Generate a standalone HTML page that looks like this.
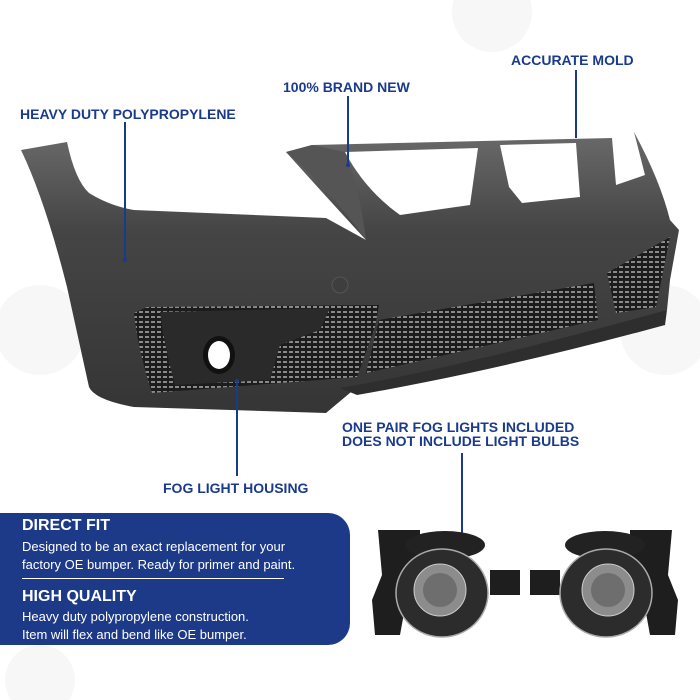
<!DOCTYPE html>
<html><head><meta charset="utf-8"><style>
html,body{margin:0;padding:0;background:#fff;width:700px;height:700px;overflow:hidden}
.t{position:absolute;font-family:"Liberation Sans",sans-serif;color:#1a3a8c;font-weight:bold;font-size:14px;white-space:nowrap}
.panel{position:absolute;left:0;top:513px;width:350px;height:132px;background:#1c3a88;border-radius:0 22px 22px 0;color:#fff;font-family:"Liberation Sans",sans-serif}
.panel h3{margin:0;font-size:16px;font-weight:bold;position:absolute;left:22px}
.panel p{margin:0;font-size:13px;line-height:18px;position:absolute;left:22px}
</style></head><body>
<svg width="700" height="700" style="position:absolute;left:0;top:0">
<defs>
<linearGradient id="g" x1="0" y1="0" x2="0" y2="1"><stop offset="0" stop-color="#6a6a6a"/><stop offset="0.35" stop-color="#454545"/><stop offset="1" stop-color="#353535"/></linearGradient>
<pattern id="m" width="6" height="5" patternUnits="userSpaceOnUse"><rect width="6" height="5" fill="#1c1c1c"/><rect x="1" y="1" width="4" height="2" fill="#8a8a8a"/></pattern>
</defs>
<circle cx="492" cy="12" r="40" fill="#f7f7f7"/>
<circle cx="40" cy="330" r="45" fill="#f7f7f7"/>
<circle cx="665" cy="330" r="45" fill="#f7f7f7"/>
<circle cx="40" cy="680" r="35" fill="#f7f7f7"/>
<path d="M21,150 L67,142 Q75,180 89,193 Q110,206 134,210 L326,218 L366,240 Q320,190 286,152 L312,145 L612,138 L616,185 L645,175 L634,132 L612,133 L634,132 Q660,180 670,220 L679,230 L670,280 L667,310 Q600,335 536,353 L357,387 L326,413 L134,407 Q95,400 89,387 L67,287 Q45,200 21,150 Z" fill="url(#g)"/>
<path d="M345,152 L478,148 L470,205 L400,215 Q365,190 345,152Z" fill="#fff"/>
<path d="M500,145 L576,143 L580,197 L522,203 L509,187Z" fill="#fff"/>
<path d="M286,152 L312,145 L345,152 Q360,190 366,240 Q330,190 286,152Z" fill="#555"/>
<path d="M147,307 L379,305 L375,327 L357,377 L152,393 Q138,350 134,313Z" fill="url(#m)"/>
<path d="M160,312 L330,308 L320,330 L280,345 L270,380 L175,385 Q165,350 160,312Z" fill="#2a2a2a"/>
<path d="M379,320 L594,283 L598,320 L366,373Z" fill="url(#m)"/>
<path d="M607,273 L670,237 L656,307 L616,313Z" fill="url(#m)"/>
<path d="M340,388 Q450,370 667,310 L665,325 Q500,370 357,395Z" fill="#2e2e2e"/>
<ellipse cx="219" cy="355" rx="16" ry="19" fill="#111"/><ellipse cx="219" cy="355" rx="11" ry="14" fill="#fff"/>
<circle cx="340" cy="285" r="8" fill="#3e3e3e" stroke="#555"/>
<g stroke="#1a3a8c" stroke-width="2">
<line x1="125" y1="122" x2="125" y2="260"/>
<line x1="348" y1="96" x2="348" y2="165"/>
<line x1="576" y1="70" x2="576" y2="138"/>
<line x1="237" y1="380" x2="237" y2="476"/>
<line x1="462" y1="453" x2="462" y2="545"/>
</g>
<g fill="#1a3a8c"><circle cx="125" cy="260" r="2"/><circle cx="348" cy="165" r="2"/><circle cx="237" cy="381" r="2"/><circle cx="462" cy="545" r="2"/></g>
<g>
<path d="M378,530 L420,530 L420,580 L410,580 L400,635 L375,635 L372,600 L382,575Z" fill="#1e1e1e"/>
<path d="M490,570 L520,570 L520,595 L490,595Z" fill="#1e1e1e"/>
<ellipse cx="445" cy="545" rx="40" ry="14" fill="#222"/>
<ellipse cx="442" cy="593" rx="46" ry="44" fill="#2c2c2c" stroke="#aaa" stroke-width="1.5"/>
<circle cx="440" cy="590" r="26" fill="#8c8c8c" stroke="#ccc"/>
<circle cx="440" cy="590" r="17" fill="#6e6e6e"/>
<path d="M672,530 L630,530 L630,580 L640,580 L650,635 L675,635 L678,600 L668,575Z" fill="#1e1e1e"/>
<path d="M530,570 L560,570 L560,595 L530,595Z" fill="#1e1e1e"/>
<ellipse cx="605" cy="545" rx="40" ry="14" fill="#222"/>
<ellipse cx="606" cy="593" rx="46" ry="44" fill="#2c2c2c" stroke="#aaa" stroke-width="1.5"/>
<circle cx="608" cy="590" r="26" fill="#8c8c8c" stroke="#ccc"/>
<circle cx="608" cy="590" r="17" fill="#6e6e6e"/>
</g>
</svg>
<div class="t" style="left:20px;top:106px">HEAVY DUTY POLYPROPYLENE</div>
<div class="t" style="left:283px;top:79px">100% BRAND NEW</div>
<div class="t" style="left:511px;top:52px">ACCURATE MOLD</div>
<div class="t" style="left:163px;top:480px">FOG LIGHT HOUSING</div>
<div class="t" style="left:342px;top:420px;line-height:14px">ONE PAIR FOG LIGHTS INCLUDED<br>DOES NOT INCLUDE LIGHT BULBS</div>
<div class="panel">
<h3 style="top:4px">DIRECT FIT</h3>
<p style="top:25px">Designed to be an exact replacement for your<br>factory OE bumper. Ready for primer and paint.</p>
<div style="position:absolute;left:22px;top:65px;width:262px;height:1px;background:#fff"></div>
<h3 style="top:75px">HIGH QUALITY</h3>
<p style="top:95px">Heavy duty polypropylene construction.<br>Item will flex and bend like OE bumper.</p>
</div>
</body></html>
